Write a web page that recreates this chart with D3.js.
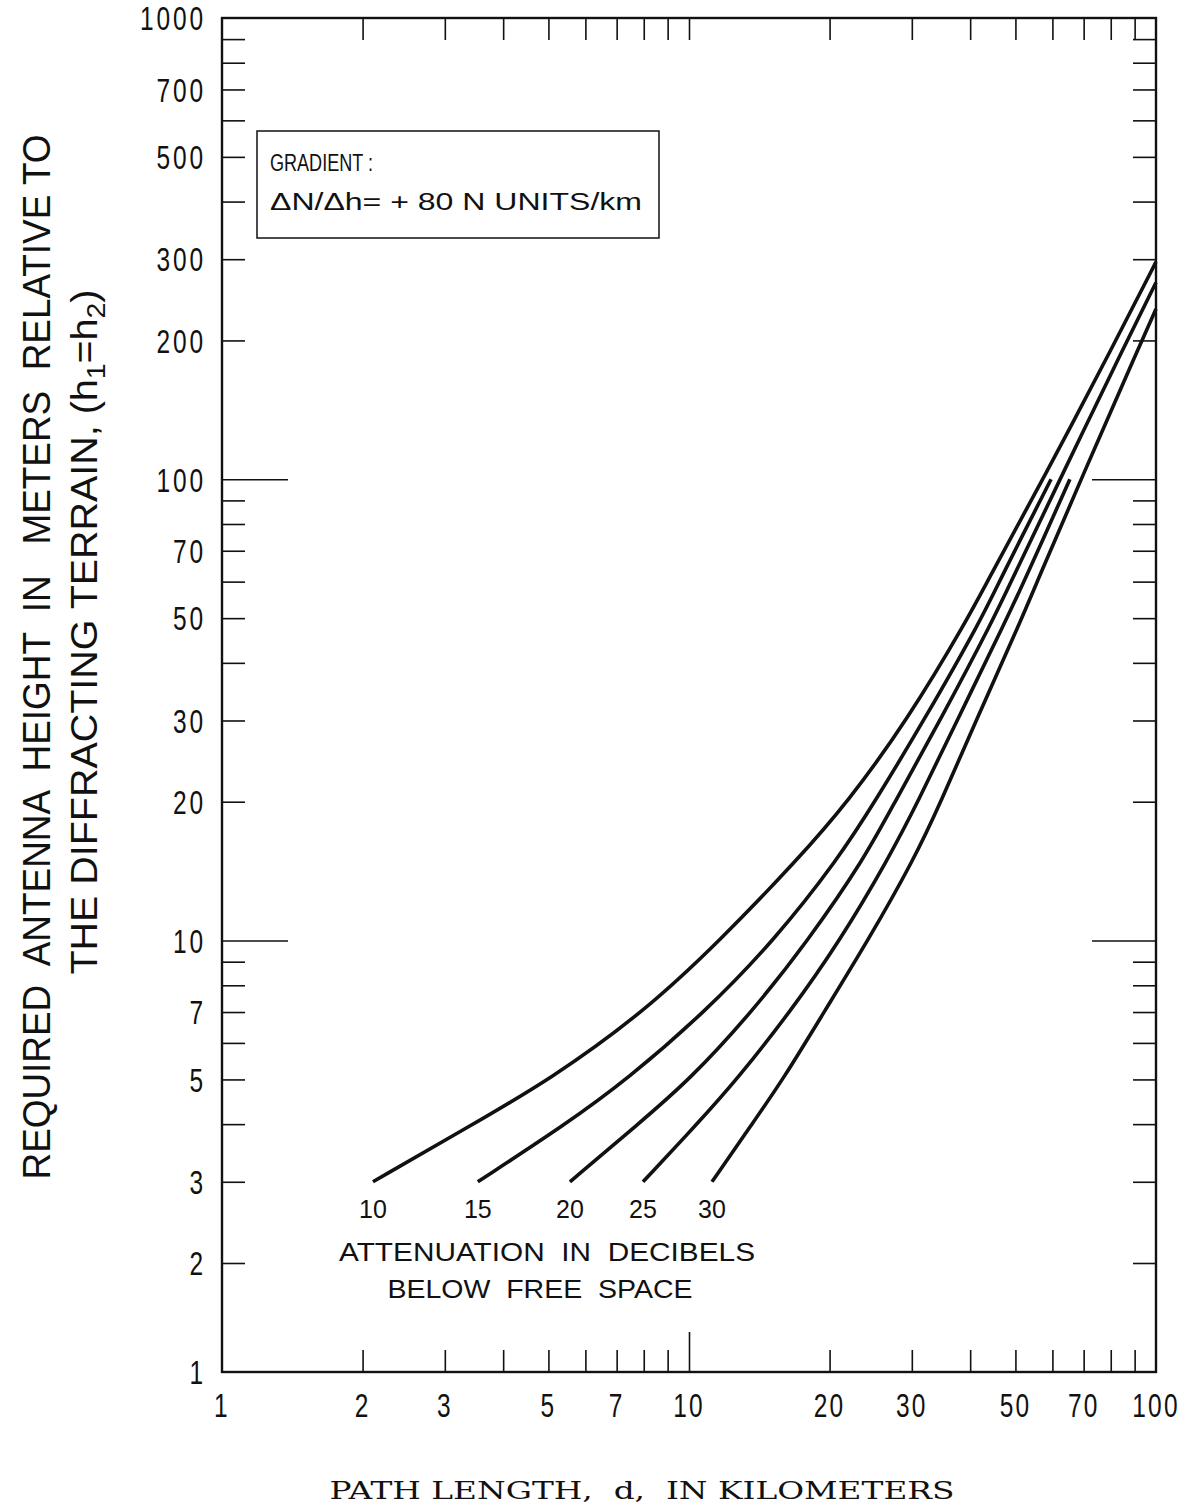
<!DOCTYPE html>
<html><head><meta charset="utf-8">
<script src="https://cdn.jsdelivr.net/npm/d3@7"></script>
<style>body{margin:0;background:#fff}svg{display:block}</style>
</head><body>
<svg id="c" width="1186" height="1510"></svg>
<script>
// ---- data ----
const xTickLabels = [1,2,3,5,7,10,20,30,50,70,100];
const yTickLabels = [1,2,3,5,7,10,20,30,50,70,100,200,300,500,700,1000];
const xMinorTicks = [2,3,4,5,6,7,8,9,10,20,30,40,50,60,70,80,90];
const yMinorTicks = [2,3,4,5,6,7,8,9,20,30,40,50,60,70,80,90,200,300,400,500,600,700,800,900];
const yMajorTicks = [10,100];
const attenuationLabels = ["10","15","20","25","30"];
// [path length (km), required antenna height (m)]
const curve10 = [[2.105,3],[3.45,4],[5.04,5],[8.01,7],[11.65,10],[17.1,15],[21.9,20],[29.3,30],[39.6,50],[43.7,60.6],[57.3,100],[82.1,200],[100,296]];
const curve15 = [[3.53,3],[5.45,4],[7.37,5],[10.82,7],[15.21,10],[20.84,15],[25.0,20],[31.85,30],[42.4,50],[46.35,60.6],[59.6,100]];
const curve20 = [[5.56,3],[7.78,4],[10.05,5],[13.64,7],[17.98,10],[23.7,15],[27.6,20],[34.5,30],[45.0,50],[49.16,60.6],[62.3,100],[86.7,200],[100,267]];
const curve25 = [[7.97,3],[10.4,4],[12.67,5],[16.46,7],[21.06,10],[26.68,15],[30.93,20],[37.5,30],[47.97,50],[52.42,60.6],[65.4,100]];
const curve30 = [[11.2,3],[13.64,4],[15.9,5],[19.46,7],[24.17,10],[30.33,15],[34.64,20],[41.17,30],[51.66,50],[55.88,60.6],[69.1,100],[93.3,200],[100,234]];
const curves = [curve10, curve15, curve20, curve25, curve30];

const gradientLines = ["GRADIENT :", "ΔN/Δh= + 80 N UNITS/km"];
const legendLines = ["ATTENUATION  IN  DECIBELS", "BELOW  FREE  SPACE"];
const xTitle = "PATH LENGTH,  d,  IN KILOMETERS";
const yTitle1 = "REQUIRED  ANTENNA  HEIGHT  IN   METERS  RELATIVE TO";

// ---- scales ----
const svg = d3.select("#c");
const x = d3.scaleLog().domain([1,100]).range([222,1156]);
const y = d3.scaleLog().domain([1,2,1000]).range([1372,1263,18]);
const ink = "#111";

// frame
svg.append("rect").attr("x",x(1)).attr("y",y(1000))
  .attr("width",x(100)-x(1)).attr("height",y(1)-y(1000))
  .attr("fill","none").attr("stroke",ink).attr("stroke-width",2.4);

function ticks(gen, tr, w){
  const g = svg.append("g").attr("transform",tr).call(gen);
  g.select(".domain").remove();
  g.selectAll("text").remove();
  g.selectAll("line").attr("stroke",ink).attr("stroke-width",w||1.6);
}
ticks(d3.axisLeft(y).tickValues(yMinorTicks).tickSize(-23), `translate(${x(1)},0)`);
ticks(d3.axisLeft(y).tickValues(yMajorTicks).tickSize(-66), `translate(${x(1)},0)`);
ticks(d3.axisRight(y).tickValues(yMinorTicks).tickSize(-23), `translate(${x(100)},0)`);
ticks(d3.axisRight(y).tickValues(yMajorTicks).tickSize(-64), `translate(${x(100)},0)`);
ticks(d3.axisTop(x).tickValues(xMinorTicks).tickSize(-22), `translate(0,${y(1000)})`);
ticks(d3.axisBottom(x).tickValues(xMinorTicks.filter(v=>v!==10)).tickSize(-22), `translate(0,${y(1)})`);
ticks(d3.axisBottom(x).tickValues([10]).tickSize(-40), `translate(0,${y(1)})`);

// tick labels (condensed lettering)
const tickFont = "'Liberation Sans', Arial, sans-serif";
svg.append("g").selectAll("text").data(yTickLabels).join("text")
  .attr("transform", d=>`translate(206,${y(d)}) scale(0.72,1)`)
  .attr("text-anchor","end").attr("dy","0.36em").attr("letter-spacing",4)
  .attr("font-family",tickFont).attr("font-size",34).attr("fill",ink)
  .text(d=>d);
svg.append("g").selectAll("text").data(xTickLabels).join("text")
  .attr("transform", d=>`translate(${x(d)},${y(1)+45}) scale(0.72,1)`)
  .attr("text-anchor","middle").attr("letter-spacing",3)
  .attr("font-family",tickFont).attr("font-size",34).attr("fill",ink)
  .text(d=>d);

// curves (smooth spline through the read points)
const line = d3.line().x(d=>x(d[0])).y(d=>y(d[1])).curve(d3.curveBasis);
svg.append("g").selectAll("path").data(curves).join("path")
  .attr("d", line).attr("fill","none").attr("stroke",ink).attr("stroke-width",3.6);

// attenuation labels at curve starts
const labFont = "'Liberation Sans', Arial, sans-serif";
svg.append("g").selectAll("text").data(curves).join("text")
  .attr("x", d=>x(d[0][0])).attr("y", d=>y(d[0][1])+36)
  .attr("text-anchor","middle").attr("font-family",labFont).attr("font-size",25).attr("fill",ink)
  .text((d,i)=>attenuationLabels[i]);
svg.append("text").attr("x",547).attr("y",1261).attr("text-anchor","middle")
  .attr("font-family",labFont).attr("font-size",25).attr("fill",ink)
  .attr("textLength",416).attr("lengthAdjust","spacingAndGlyphs")
  .style("white-space","pre").text(legendLines[0]);
svg.append("text").attr("x",540).attr("y",1298).attr("text-anchor","middle")
  .attr("font-family",labFont).attr("font-size",25).attr("fill",ink)
  .attr("textLength",305).attr("lengthAdjust","spacingAndGlyphs")
  .style("white-space","pre").text(legendLines[1]);

// gradient box
svg.append("rect").attr("x",257).attr("y",131).attr("width",402).attr("height",107)
  .attr("fill","#fff").attr("stroke",ink).attr("stroke-width",1.5);
svg.append("text").attr("x",270).attr("y",171).attr("font-family",labFont).attr("font-size",23).attr("fill",ink)
  .attr("textLength",103).attr("lengthAdjust","spacingAndGlyphs").text(gradientLines[0]);
svg.append("text").attr("x",270).attr("y",210).attr("font-family",labFont).attr("font-size",23).attr("fill",ink)
  .attr("textLength",372).attr("lengthAdjust","spacingAndGlyphs").text(gradientLines[1]);

// x title
svg.append("text").attr("x",642).attr("y",1499).attr("text-anchor","middle")
  .attr("font-family","'DejaVu Serif','Liberation Serif',serif").attr("font-size",24).attr("fill",ink)
  .attr("textLength",625).attr("lengthAdjust","spacingAndGlyphs")
  .style("white-space","pre").text(xTitle);

// y title
svg.append("text").attr("transform","translate(50,657) rotate(-90)").attr("text-anchor","middle")
  .attr("font-family",tickFont).attr("font-size",38).attr("fill",ink)
  .attr("textLength",1045).attr("lengthAdjust","spacingAndGlyphs")
  .style("white-space","pre").text(yTitle1);
const t2 = svg.append("text").attr("transform","translate(97,632) rotate(-90)").attr("text-anchor","middle")
  .attr("font-family",tickFont).attr("font-size",36).attr("fill",ink)
  .attr("textLength",685).attr("lengthAdjust","spacingAndGlyphs");
t2.append("tspan").text("THE DIFFRACTING TERRAIN, (h");
t2.append("tspan").attr("baseline-shift","-30%").attr("font-size",26).text("1");
t2.append("tspan").text("=h");
t2.append("tspan").attr("baseline-shift","-30%").attr("font-size",26).text("2");
t2.append("tspan").text(")");
</script>
</body></html>
